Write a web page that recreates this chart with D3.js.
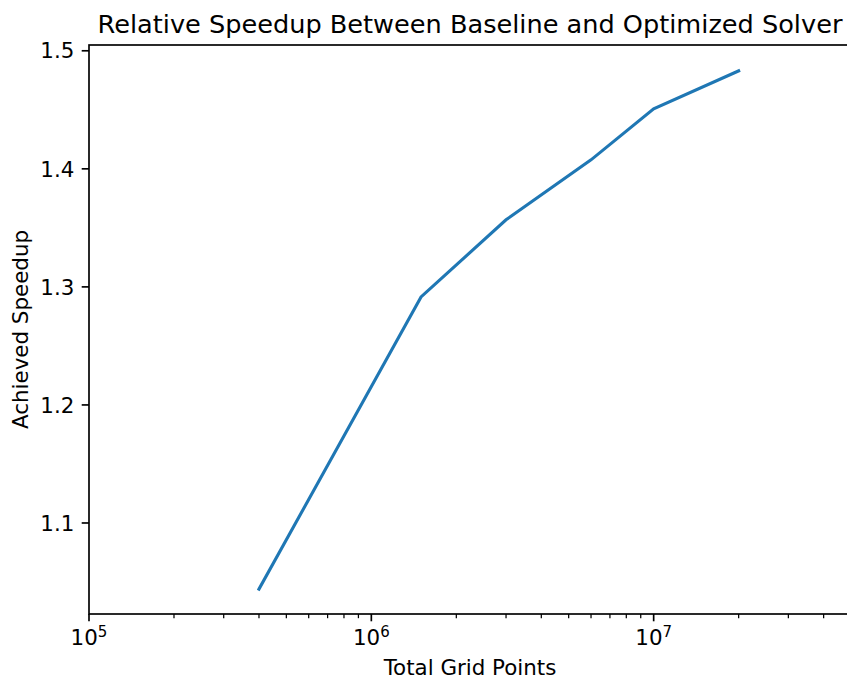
<!DOCTYPE html>
<meta charset="utf-8">
<style>
body { margin: 0; background: #fff; }
text { font-family: "DejaVu Sans", sans-serif; fill: #000; }
</style>
<body>
<div class="chart"></div>
<script src="https://cdn.jsdelivr.net/npm/d3@7"></script>
<script>

var gridPoints = [4e5, 1.5e6, 3e6, 6e6, 1e7, 2e7];
var speedup = [1.044, 1.2915, 1.3568, 1.4076, 1.4508, 1.483];
var yTicks = [1.1, 1.2, 1.3, 1.4, 1.5];
var xTicks = [1e5, 1e6, 1e7];

var width = 847, height = 679;
var margin = {left: 89, top: 45, bottom: 614, right: 851};

var svg = d3.select(".chart")
    .append("svg")
    .attr("width", width)
    .attr("height", height);

var x = d3.scaleLog()
    .domain([1e5, 5e7])
    .range([margin.left, margin.right]);

var y = d3.scaleLinear()
    .domain([1.0229, 1.5049])
    .range([margin.bottom, margin.top]);

// minor ticks on the log axis
var minor = [];
for (var e = 5; e <= 7; e++) {
    for (var m = 2; m <= 9; m++) {
        var v = m * Math.pow(10, e);
        if (v <= 5e7) minor.push(v);
    }
}

svg.selectAll(".minor")
    .data(minor)
    .enter()
    .append("line")
    .attr("x1", function(d) { return x(d); })
    .attr("x2", function(d) { return x(d); })
    .attr("y1", margin.bottom)
    .attr("y2", margin.bottom + 4.2)
    .attr("stroke", "#000")
    .attr("stroke-width", 1.25);

svg.selectAll(".xmajor")
    .data(xTicks)
    .enter()
    .append("line")
    .attr("x1", function(d) { return x(d); })
    .attr("x2", function(d) { return x(d); })
    .attr("y1", margin.bottom)
    .attr("y2", margin.bottom + 7.3)
    .attr("stroke", "#000")
    .attr("stroke-width", 1.67);

var xl = svg.selectAll(".xlab")
    .data(xTicks)
    .enter()
    .append("text")
    .attr("x", function(d) { return x(d); })
    .attr("y", 645)
    .attr("text-anchor", "middle")
    .style("font-size", "21.4px");
xl.append("tspan").text("10");
xl.append("tspan")
    .attr("dy", -8)
    .style("font-size", "15px")
    .text(function(d) { return Math.round(Math.log10(d)); });

svg.selectAll(".ymajor")
    .data(yTicks)
    .enter()
    .append("line")
    .attr("x1", margin.left - 7.3)
    .attr("x2", margin.left)
    .attr("y1", function(d) { return y(d); })
    .attr("y2", function(d) { return y(d); })
    .attr("stroke", "#000")
    .attr("stroke-width", 1.67);

svg.selectAll(".ylab")
    .data(yTicks)
    .enter()
    .append("text")
    .attr("x", margin.left - 14.6)
    .attr("y", function(d) { return y(d); })
    .attr("dy", "0.36em")
    .attr("text-anchor", "end")
    .style("font-size", "21.4px")
    .text(function(d) { return d.toFixed(1); });

var line = d3.line()
    .x(function(d, i) { return x(gridPoints[i]); })
    .y(function(d) { return y(d); });

svg.append("path")
    .datum(speedup)
    .attr("d", line)
    .attr("fill", "none")
    .attr("stroke", "#1f77b4")
    .attr("stroke-width", 3.1)
    .attr("stroke-linecap", "square");

svg.append("rect")
    .attr("x", margin.left)
    .attr("y", margin.top)
    .attr("width", margin.right - margin.left)
    .attr("height", margin.bottom - margin.top)
    .attr("fill", "none")
    .attr("stroke", "#000")
    .attr("stroke-width", 1.67);

svg.append("text")
    .attr("x", (margin.left + margin.right) / 2)
    .attr("y", 33)
    .attr("text-anchor", "middle")
    .style("font-size", "25.6px")
    .text("Relative Speedup Between Baseline and Optimized Solver");

svg.append("text")
    .attr("x", (margin.left + margin.right) / 2)
    .attr("y", 675)
    .attr("text-anchor", "middle")
    .style("font-size", "21.4px")
    .text("Total Grid Points");

svg.append("text")
    .attr("transform", "translate(28," + (margin.top + margin.bottom) / 2 + ") rotate(-90)")
    .attr("text-anchor", "middle")
    .style("font-size", "21.4px")
    .text("Achieved Speedup");

</script>
</body>
